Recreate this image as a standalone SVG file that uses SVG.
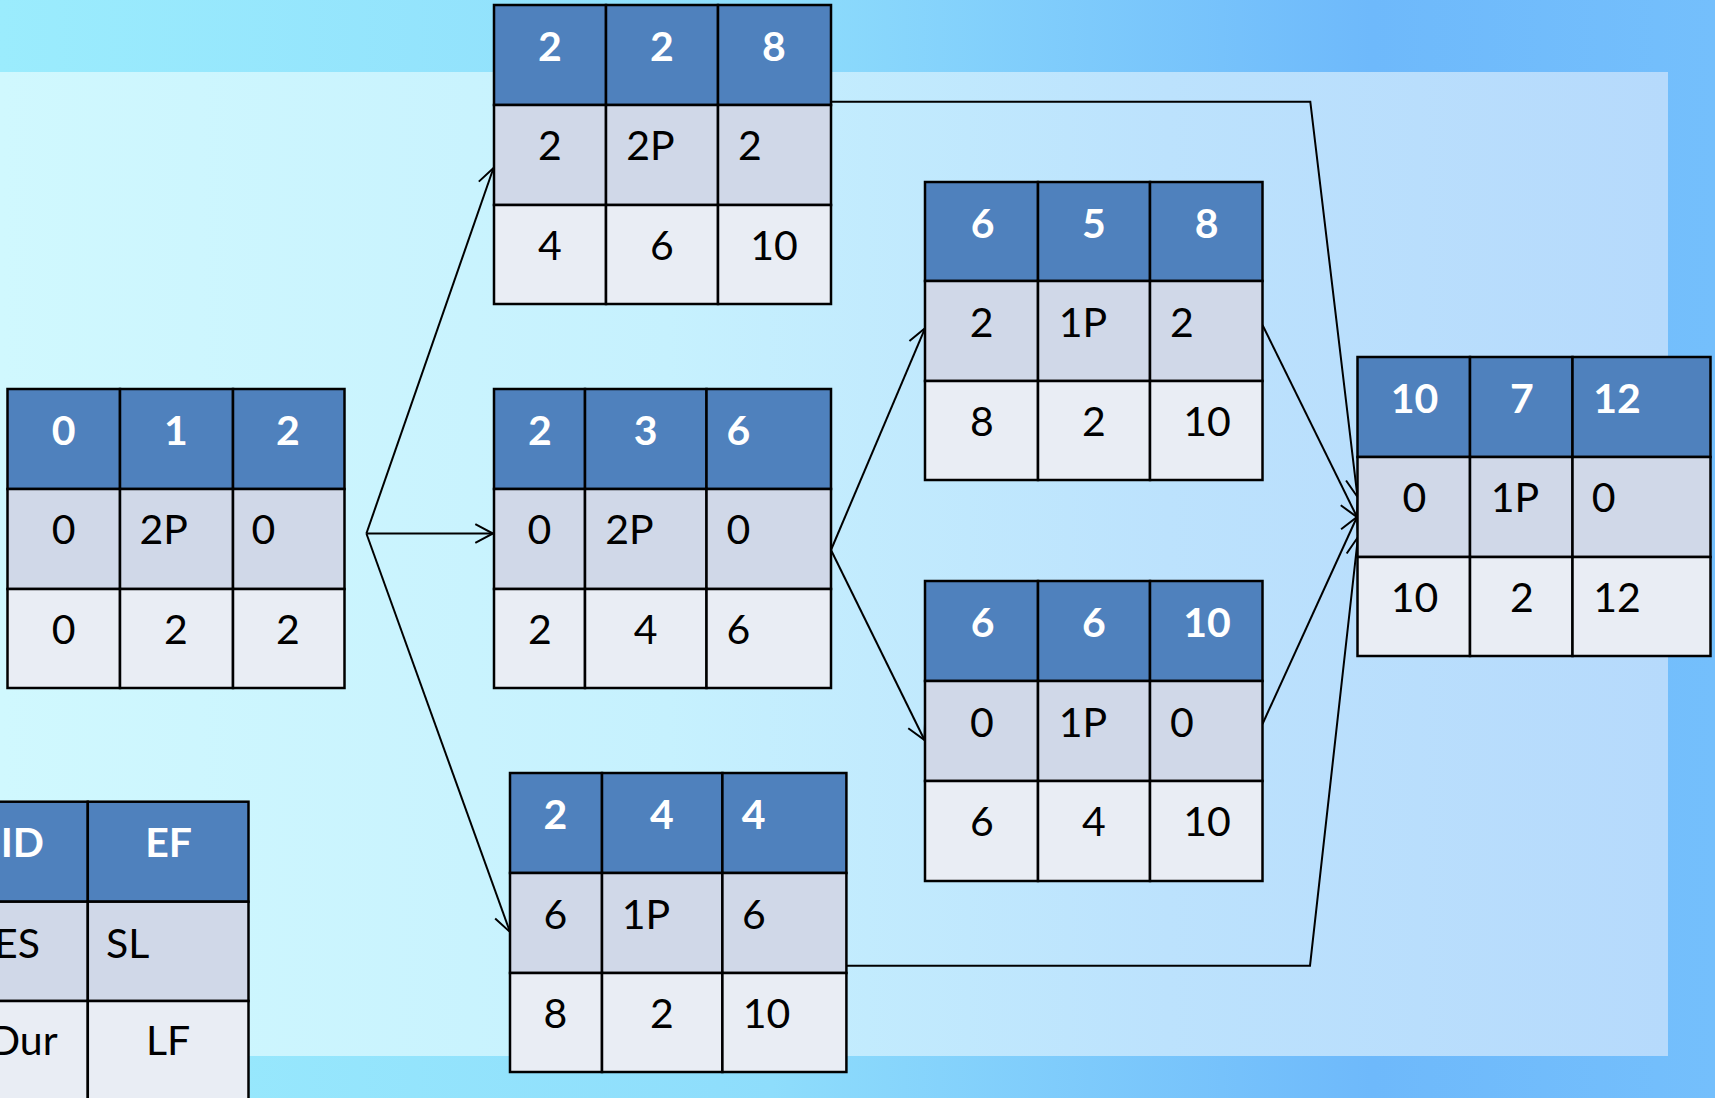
<svg xmlns="http://www.w3.org/2000/svg" width="1715" height="1098" viewBox="0 0 1715 1098">
<defs>
<linearGradient id="bgOuter" x1="0" y1="0" x2="1" y2="0">
<stop offset="0" stop-color="#9BECFD"/>
<stop offset="0.45" stop-color="#8EDDFC"/>
<stop offset="0.8" stop-color="#6EB9FB"/>
<stop offset="1" stop-color="#74BFFC"/>
</linearGradient>
<linearGradient id="bgInner" x1="0" y1="0" x2="1" y2="0">
<stop offset="0" stop-color="#D0F8FE"/>
<stop offset="0.4" stop-color="#C6F1FE"/>
<stop offset="0.7" stop-color="#BCE2FD"/>
<stop offset="1" stop-color="#B6DAFC"/>
</linearGradient>
<marker id="arr" markerUnits="userSpaceOnUse" markerWidth="30" markerHeight="30" viewBox="-25 -15 30 30" refX="0" refY="0" orient="auto" overflow="visible">
<path d="M-17.7,-9.4 L0,0 L-17.7,9.4" fill="none" stroke="#000" stroke-width="2"/>
</marker>
</defs>
<style>
.h{fill:#4F81BD;stroke:#000;stroke-width:2.5}
.m{fill:#D0D8E8;stroke:#000;stroke-width:2.5}
.b{fill:#E9EDF4;stroke:#000;stroke-width:2.5}
.hd{font-family:Lato,sans-serif;font-size:41px;font-weight:bold;fill:#FFFFFF;text-anchor:middle}
.tx{font-family:Lato,sans-serif;font-size:41px;fill:#000;text-anchor:middle}
.cn{fill:none;stroke:#000;stroke-width:2;marker-end:url(#arr)}
</style>
<rect x="0" y="0" width="1715" height="1098" fill="url(#bgOuter)"/>
<rect x="0" y="72" width="1668" height="984" fill="url(#bgInner)"/>

<g id="connectors">
<line class="cn" x1="366.4" y1="533.5" x2="493.5" y2="168"/>
<line class="cn" x1="366.4" y1="533.5" x2="493" y2="533.5"/>
<line class="cn" x1="366.4" y1="533.5" x2="510" y2="932"/>
<line class="cn" x1="831" y1="550" x2="925" y2="328.3"/>
<line class="cn" x1="831" y1="550" x2="924.5" y2="740"/>
<line class="cn" x1="1262.5" y1="325" x2="1357" y2="517"/>
<line class="cn" x1="1262.5" y1="724" x2="1357" y2="517"/>
<polyline class="cn" points="831,101.7 1310.3,101.7 1357.5,497"/>
<polyline class="cn" points="846.4,965.7 1310,965.7 1358,537"/>
</g>

<g id="node-A">
<rect class="h" x="7.5" y="389" width="112.5" height="100"/><rect class="h" x="120" y="389" width="113" height="100"/><rect class="h" x="233" y="389" width="111.5" height="100"/>
<rect class="m" x="7.5" y="489" width="112.5" height="100"/><rect class="m" x="120" y="489" width="113" height="100"/><rect class="m" x="233" y="489" width="111.5" height="100"/>
<rect class="b" x="7.5" y="589" width="112.5" height="99"/><rect class="b" x="120" y="589" width="113" height="99"/><rect class="b" x="233" y="589" width="111.5" height="99"/>
<text class="hd" x="63.6" y="445">0</text><text class="hd" x="176" y="445">1</text><text class="hd" x="288" y="445">2</text>
<text class="tx" x="63.6" y="544">0</text><text class="tx" x="163.8" y="544">2P</text><text class="tx" x="263.3" y="544">0</text>
<text class="tx" x="63.6" y="644">0</text><text class="tx" x="176" y="644">2</text><text class="tx" x="288" y="644">2</text>
</g>

<g id="node-B">
<rect class="h" x="494" y="5" width="112" height="100"/><rect class="h" x="606" y="5" width="112" height="100"/><rect class="h" x="718" y="5" width="113" height="100"/>
<rect class="m" x="494" y="105" width="112" height="100"/><rect class="m" x="606" y="105" width="112" height="100"/><rect class="m" x="718" y="105" width="113" height="100"/>
<rect class="b" x="494" y="205" width="112" height="99"/><rect class="b" x="606" y="205" width="112" height="99"/><rect class="b" x="718" y="205" width="113" height="99"/>
<text class="hd" x="550" y="61">2</text><text class="hd" x="662" y="61">2</text><text class="hd" x="774" y="61">8</text>
<text class="tx" x="550" y="160">2</text><text class="tx" x="650.5" y="160">2P</text><text class="tx" x="750" y="160">2</text>
<text class="tx" x="550" y="260">4</text><text class="tx" x="662" y="260">6</text><text class="tx" x="774" y="260">10</text>
</g>

<g id="node-C">
<rect class="h" x="494" y="389" width="91" height="100"/><rect class="h" x="585" y="389" width="121.5" height="100"/><rect class="h" x="706.5" y="389" width="124.5" height="100"/>
<rect class="m" x="494" y="489" width="91" height="100"/><rect class="m" x="585" y="489" width="121.5" height="100"/><rect class="m" x="706.5" y="489" width="124.5" height="100"/>
<rect class="b" x="494" y="589" width="91" height="99"/><rect class="b" x="585" y="589" width="121.5" height="99"/><rect class="b" x="706.5" y="589" width="124.5" height="99"/>
<text class="hd" x="540" y="445">2</text><text class="hd" x="645.6" y="445">3</text><text class="hd" x="738.4" y="445">6</text>
<text class="tx" x="539.5" y="544">0</text><text class="tx" x="629.5" y="544">2P</text><text class="tx" x="738.4" y="544">0</text>
<text class="tx" x="540" y="644">2</text><text class="tx" x="645.6" y="644">4</text><text class="tx" x="738.4" y="644">6</text>
</g>

<g id="node-D">
<rect class="h" x="510" y="773" width="92" height="100"/><rect class="h" x="602" y="773" width="120.4" height="100"/><rect class="h" x="722.4" y="773" width="124" height="100"/>
<rect class="m" x="510" y="873" width="92" height="100"/><rect class="m" x="602" y="873" width="120.4" height="100"/><rect class="m" x="722.4" y="873" width="124" height="100"/>
<rect class="b" x="510" y="973" width="92" height="99"/><rect class="b" x="602" y="973" width="120.4" height="99"/><rect class="b" x="722.4" y="973" width="124" height="99"/>
<text class="hd" x="555.4" y="829">2</text><text class="hd" x="661.8" y="829">4</text><text class="hd" x="753.7" y="829">4</text>
<text class="tx" x="555.5" y="929">6</text><text class="tx" x="646" y="929">1P</text><text class="tx" x="754" y="929">6</text>
<text class="tx" x="555.5" y="1028">8</text><text class="tx" x="661.8" y="1028">2</text><text class="tx" x="766.6" y="1028">10</text>
</g>

<g id="node-E">
<rect class="h" x="925" y="182" width="113" height="99"/><rect class="h" x="1038" y="182" width="112" height="99"/><rect class="h" x="1150" y="182" width="112.5" height="99"/>
<rect class="m" x="925" y="281" width="113" height="100"/><rect class="m" x="1038" y="281" width="112" height="100"/><rect class="m" x="1150" y="281" width="112.5" height="100"/>
<rect class="b" x="925" y="381" width="113" height="99"/><rect class="b" x="1038" y="381" width="112" height="99"/><rect class="b" x="1150" y="381" width="112.5" height="99"/>
<text class="hd" x="982.6" y="238">6</text><text class="hd" x="1094" y="238">5</text><text class="hd" x="1206.7" y="238">8</text>
<text class="tx" x="981.7" y="337">2</text><text class="tx" x="1083" y="337">1P</text><text class="tx" x="1182" y="337">2</text>
<text class="tx" x="982" y="436">8</text><text class="tx" x="1094" y="436">2</text><text class="tx" x="1207" y="436">10</text>
</g>

<g id="node-F">
<rect class="h" x="925" y="581" width="113" height="100"/><rect class="h" x="1038" y="581" width="112" height="100"/><rect class="h" x="1150" y="581" width="112.5" height="100"/>
<rect class="m" x="925" y="681" width="113" height="100"/><rect class="m" x="1038" y="681" width="112" height="100"/><rect class="m" x="1150" y="681" width="112.5" height="100"/>
<rect class="b" x="925" y="781" width="113" height="100"/><rect class="b" x="1038" y="781" width="112" height="100"/><rect class="b" x="1150" y="781" width="112.5" height="100"/>
<text class="hd" x="982.6" y="637">6</text><text class="hd" x="1094" y="637">6</text><text class="hd" x="1207" y="637">10</text>
<text class="tx" x="982" y="737">0</text><text class="tx" x="1083" y="737">1P</text><text class="tx" x="1182" y="737">0</text>
<text class="tx" x="982" y="836">6</text><text class="tx" x="1094" y="836">4</text><text class="tx" x="1207" y="836">10</text>
</g>

<g id="node-G">
<rect class="h" x="1357.5" y="357" width="112.5" height="100"/><rect class="h" x="1470" y="357" width="102.5" height="100"/><rect class="h" x="1572.5" y="357" width="138" height="100"/>
<rect class="m" x="1357.5" y="457" width="112.5" height="100"/><rect class="m" x="1470" y="457" width="102.5" height="100"/><rect class="m" x="1572.5" y="457" width="138" height="100"/>
<rect class="b" x="1357.5" y="557" width="112.5" height="99"/><rect class="b" x="1470" y="557" width="102.5" height="99"/><rect class="b" x="1572.5" y="557" width="138" height="99"/>
<text class="hd" x="1414.5" y="413">10</text><text class="hd" x="1522" y="413">7</text><text class="hd" x="1617" y="413">12</text>
<text class="tx" x="1414.5" y="512">0</text><text class="tx" x="1515" y="512">1P</text><text class="tx" x="1603.7" y="512">0</text>
<text class="tx" x="1414.5" y="612">10</text><text class="tx" x="1522" y="612">2</text><text class="tx" x="1617" y="612">12</text>
</g>

<g id="legend">
<rect class="h" x="-80" y="801.7" width="167.8" height="100"/><rect class="h" x="87.8" y="801.7" width="160.7" height="100"/>
<rect class="m" x="-80" y="901.7" width="167.8" height="99.3"/><rect class="m" x="87.8" y="901.7" width="160.7" height="99.3"/>
<rect class="b" x="-80" y="1001" width="167.8" height="110"/><rect class="b" x="87.8" y="1001" width="160.7" height="110"/>
<text class="hd" x="44" y="857" style="text-anchor:end">ID</text><text class="hd" x="168.7" y="857">EF</text>
<text class="tx" x="40" y="958" style="text-anchor:end">ES</text><text class="tx" x="106" y="958" style="text-anchor:start">SL</text>
<text class="tx" x="57.6" y="1055" style="text-anchor:end">Dur</text><text class="tx" x="168" y="1055">LF</text>
</g>
</svg>
